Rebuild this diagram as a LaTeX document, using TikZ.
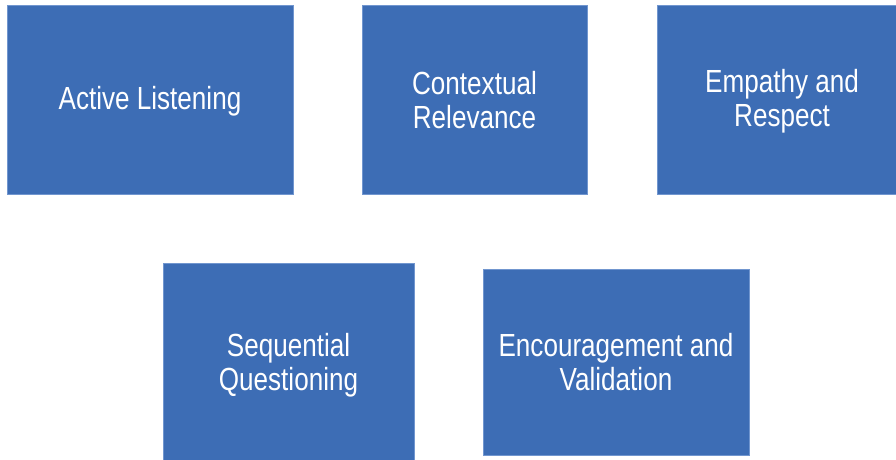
\documentclass[tikz,border=0pt]{standalone}
\usepackage{fontspec}
\setmainfont{Liberation Sans}[FakeStretch=0.815]
\definecolor{boxfill}{HTML}{3D6DB5}
\definecolor{boxedge}{HTML}{7196CF}
\begin{document}
\begin{tikzpicture}[x=1pt,y=-1pt,
  topic/.style={rectangle, fill=boxfill, draw=boxedge, line width=0.8pt, inner sep=0pt},
  caption/.style={text=white, align=center, inner sep=0pt,
    font=\fontsize{32}{34}\selectfont}]
  \useasboundingbox (0,0) rectangle (896,460);
  \clip (0,0) rectangle (896,460);
  \fill[white] (0,0) rectangle (896,460);
  \node[topic, minimum width=286pt, minimum height=189pt,
    label={[caption, yshift=-2pt]center:Active Listening}] (listen) at (150,99.5) {};
  \node[topic, minimum width=225pt, minimum height=189pt,
    label={[caption, yshift=-1pt]center:Contextual\\Relevance}] (context) at (474.5,99.5) {};
  \node[topic, minimum width=250pt, minimum height=189pt,
    label={[caption, yshift=-2pt]center:Empathy and\\Respect}] (empathy) at (782,99.5) {};
  \node[topic, minimum width=251pt, minimum height=197pt,
    label={[caption, yshift=-3.5pt]center:Sequential\\Questioning}] (seq) at (288.5,361.5) {};
  \node[topic, minimum width=266pt, minimum height=186pt,
    label={[caption, yshift=-0.5pt]center:Encouragement and\\Validation}] (encourage) at (616,362) {};
\end{tikzpicture}
\end{document}
